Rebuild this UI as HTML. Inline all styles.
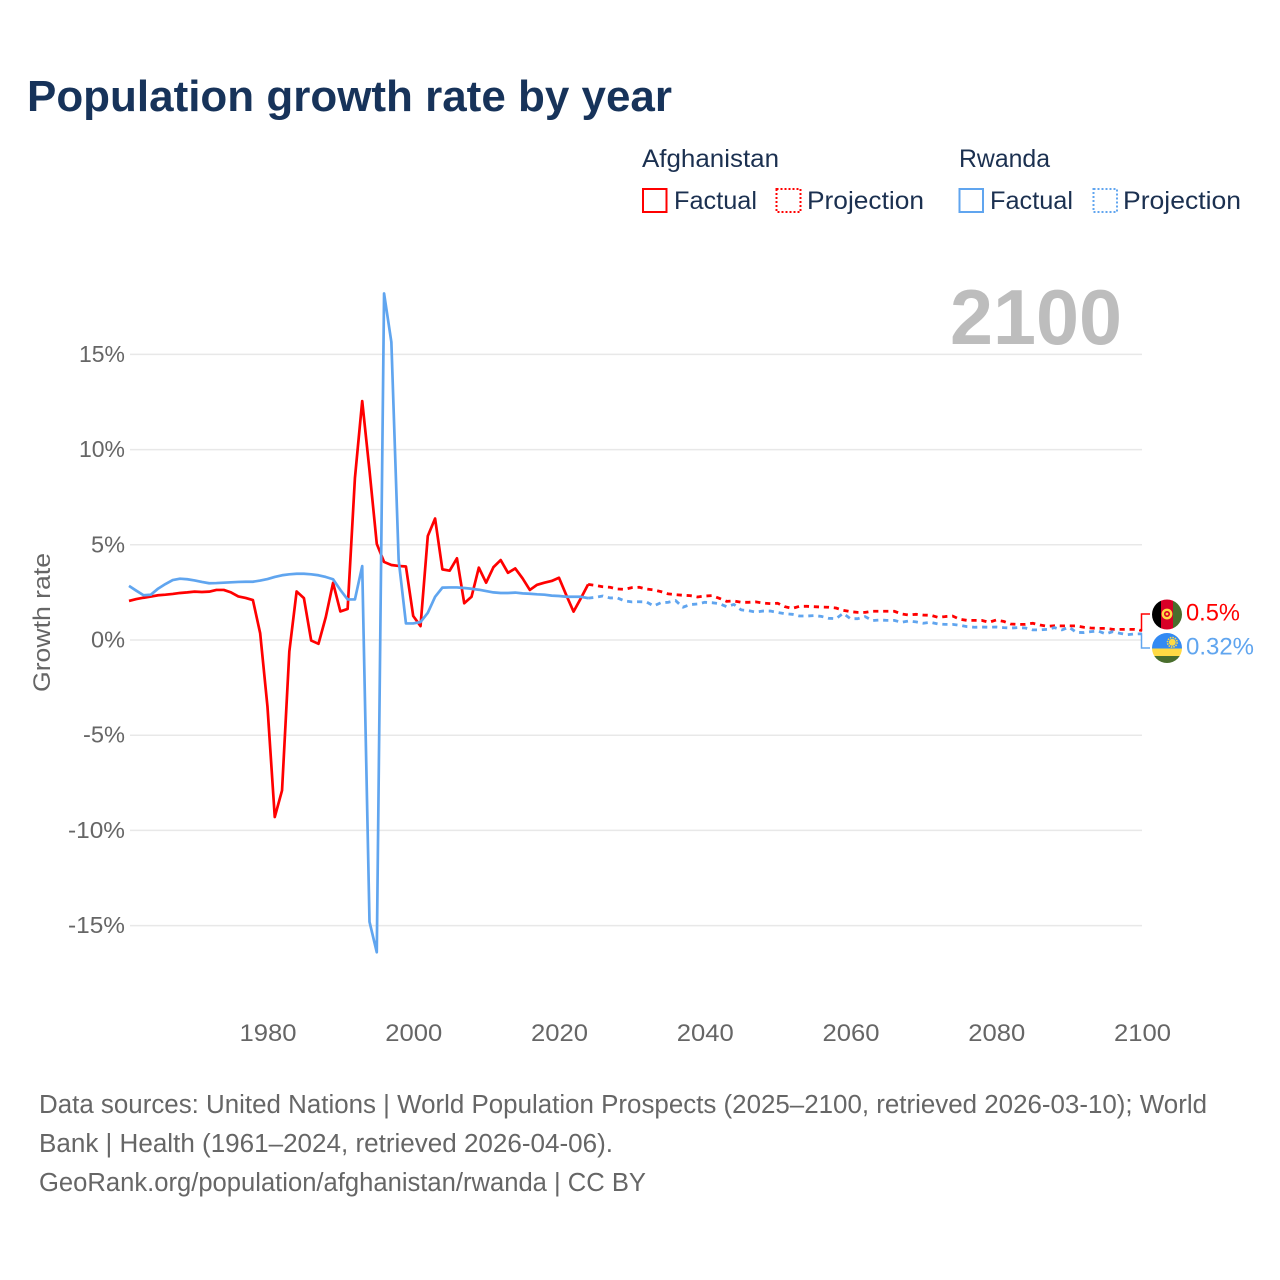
<!DOCTYPE html>
<html lang="en">
<head>
<meta charset="utf-8">
<title>Population growth rate by year</title>
<style>
html,body{margin:0;padding:0;background:#fff;width:1280px;height:1280px;overflow:hidden}
svg{display:block}
text{font-family:"Liberation Sans",sans-serif}
</style>
</head>
<body>
<svg id="chart" xmlns="http://www.w3.org/2000/svg" width="1280" height="1280" viewBox="0 0 1280 1280">
  <defs>
    <clipPath id="flag-clip-a"><circle cx="1167" cy="614.5" r="15"/></clipPath>
    <clipPath id="flag-clip-b"><circle cx="1167" cy="648" r="15"/></clipPath>
  </defs>
  <rect width="1280" height="1280" fill="#fff"/>

  <text x="27" y="111" font-size="44" font-weight="700" fill="#17335a" textLength="645" lengthAdjust="spacingAndGlyphs">Population growth rate by year</text>

  <g font-size="25" fill="#1b3050">
    <text x="642" y="167" textLength="137" lengthAdjust="spacingAndGlyphs">Afghanistan</text>
    <text x="959" y="167" textLength="91" lengthAdjust="spacingAndGlyphs">Rwanda</text>
    <rect x="643" y="189" width="23.5" height="23" fill="none" stroke="#ff0000" stroke-width="2"/>
    <text x="674" y="209" textLength="83" lengthAdjust="spacingAndGlyphs">Factual</text>
    <rect x="776.5" y="189" width="24" height="23" fill="none" stroke="#ff0000" stroke-width="2" stroke-dasharray="2 2"/>
    <text x="807" y="209" textLength="117" lengthAdjust="spacingAndGlyphs">Projection</text>
    <rect x="959.5" y="189" width="23.5" height="23" fill="none" stroke="#60a5ef" stroke-width="2"/>
    <text x="990" y="209" textLength="83" lengthAdjust="spacingAndGlyphs">Factual</text>
    <rect x="1093.5" y="189" width="23.5" height="23" fill="none" stroke="#60a5ef" stroke-width="2" stroke-dasharray="2 2"/>
    <text x="1123" y="209" textLength="118" lengthAdjust="spacingAndGlyphs">Projection</text>
  </g>

  <g id="grid"></g>
  <g id="yticks"></g>
  <g id="xticks"></g>

  <text transform="translate(50 622.5) rotate(-90)" text-anchor="middle" font-size="24" fill="#666" textLength="139" lengthAdjust="spacingAndGlyphs">Growth rate</text>

  <text x="950" y="344" font-size="78" font-weight="700" fill="#bdbdbd" textLength="172" lengthAdjust="spacingAndGlyphs">2100</text>

  <g id="series"></g>

  <g clip-path="url(#flag-clip-a)">
    <rect x="1152" y="599" width="9" height="31" fill="#000"/>
    <rect x="1161" y="599" width="12" height="31" fill="#d80027"/>
    <rect x="1173" y="599" width="9" height="31" fill="#496e2d"/>
    <circle cx="1167" cy="614" r="4.2" fill="none" stroke="#ffda44" stroke-width="2.4"/>
    <circle cx="1167" cy="614" r="1.4" fill="#ffda44"/>
  </g>
  <g clip-path="url(#flag-clip-b)">
    <rect x="1152" y="633" width="30" height="15.5" fill="#338af3"/>
    <rect x="1152" y="648.5" width="30" height="7.5" fill="#ffda44"/>
    <rect x="1152" y="656" width="30" height="8" fill="#496e2d"/>
    <circle cx="1172.3" cy="642.3" r="3.4" fill="#ffda44"/>
    <circle cx="1172.3" cy="642.3" r="4.8" fill="none" stroke="#ffda44" stroke-width="1.6" stroke-dasharray="1.5 1"/>
  </g>

  <g fill="#666" font-size="25.5">
    <text x="39" y="1113" textLength="1168" lengthAdjust="spacingAndGlyphs">Data sources: United Nations | World Population Prospects (2025–2100, retrieved 2026-03-10); World</text>
    <text x="39" y="1152" textLength="574" lengthAdjust="spacingAndGlyphs">Bank | Health (1961–2024, retrieved 2026-04-06).</text>
    <text x="39" y="1191" textLength="607" lengthAdjust="spacingAndGlyphs">GeoRank.org/population/afghanistan/rwanda | CC BY</text>
  </g>
</svg>
<script>
const yTickValues = [15, 10, 5, 0, -5, -10, -15];
const xTickYears = [1980, 2000, 2020, 2040, 2060, 2080, 2100];
const firstFactualYear = 1961;
const firstProjectionYear = 2025;

const afghanistanFactual = [2.05,2.15,2.22,2.28,2.35,2.38,2.42,2.47,2.50,2.54,2.52,2.54,2.63,2.63,2.50,2.29,2.21,2.10,0.35,-3.5,-9.3,-7.9,-0.6,2.55,2.2,-0.03,-0.2,1.2,3.0,1.5,1.63,8.5,12.55,8.9,5.05,4.1,3.94,3.89,3.86,1.26,0.73,5.46,6.38,3.71,3.64,4.29,1.93,2.27,3.8,3.01,3.82,4.2,3.53,3.76,3.24,2.63,2.9,3.01,3.1,3.27,2.36,1.49,2.19,2.92];
const afghanistanProjection = [2.87,2.80,2.77,2.68,2.66,2.75,2.77,2.68,2.63,2.54,2.42,2.38,2.35,2.33,2.26,2.31,2.33,2.19,2.03,2.05,1.98,1.98,2.00,1.94,1.91,1.93,1.75,1.66,1.77,1.77,1.75,1.73,1.72,1.68,1.56,1.49,1.45,1.45,1.51,1.51,1.51,1.51,1.37,1.31,1.35,1.31,1.30,1.19,1.23,1.26,1.09,1.03,1.03,1.03,0.93,1.05,0.98,0.84,0.82,0.82,0.88,0.79,0.72,0.75,0.74,0.74,0.74,0.67,0.63,0.61,0.61,0.56,0.56,0.56,0.56,0.5];
const rwandaFactual = [2.84,2.59,2.35,2.38,2.70,2.94,3.15,3.22,3.19,3.13,3.05,2.98,2.99,3.01,3.03,3.05,3.06,3.06,3.12,3.2,3.31,3.4,3.45,3.48,3.48,3.45,3.4,3.31,3.19,2.63,2.13,2.13,3.88,-14.8,-16.4,18.2,15.65,4.2,0.87,0.87,0.94,1.43,2.27,2.75,2.76,2.76,2.73,2.69,2.64,2.57,2.5,2.47,2.47,2.49,2.45,2.43,2.4,2.38,2.33,2.31,2.27,2.27,2.27,2.2];
const rwandaProjection = [2.24,2.31,2.21,2.21,2.05,2.00,2.01,2.00,1.79,1.96,1.98,2.07,1.72,1.86,1.89,1.98,1.96,1.91,1.75,1.87,1.58,1.54,1.47,1.52,1.52,1.45,1.38,1.35,1.26,1.26,1.28,1.24,1.14,1.12,1.40,1.12,1.12,1.23,1.02,1.05,1.03,1.03,0.93,1.00,0.95,0.88,0.93,0.84,0.82,0.82,0.77,0.70,0.67,0.68,0.67,0.68,0.65,0.63,0.65,0.63,0.53,0.53,0.56,0.65,0.53,0.67,0.40,0.39,0.44,0.47,0.32,0.44,0.35,0.28,0.32,0.32];

const NS = 'http://www.w3.org/2000/svg';
const xScale = function (year) { return 129 + (year - 1961) * (1013 / 139); };
const yScale = function (value) { return 640 - value * 19.04; };

function make(tag, attrs, parent) {
  const el = document.createElementNS(NS, tag);
  Object.keys(attrs).forEach(function (k) { el.setAttribute(k, attrs[k]); });
  parent.appendChild(el);
  return el;
}

function linePath(values, startYear, prefix) {
  const parts = prefix ? [prefix] : [];
  values.forEach(function (v, i) {
    parts.push(xScale(startYear + i).toFixed(2) + ',' + yScale(v).toFixed(2));
  });
  return 'M' + parts.join('L');
}

function tickLabelWidth(str) {
  if (str.length === 2) return 34;
  if (str.length === 4) return 57;
  return str.charAt(0) === '-' ? 42 : 46;
}

const grid = document.getElementById('grid');
const yticks = document.getElementById('yticks');
const xticks = document.getElementById('xticks');
const series = document.getElementById('series');

yTickValues.forEach(function (v) {
  const line = make('line', { x1: 130, x2: 1142, y1: yScale(v), y2: yScale(v), stroke: '#e8e8e8', 'stroke-width': 1.5 }, grid);
  
  
  const str = v + '%';
  const label = make('text', { x: 125, y: yScale(v) + 7.5, 'text-anchor': 'end', 'font-size': 23.5, fill: '#666', textLength: tickLabelWidth(str), lengthAdjust: 'spacingAndGlyphs' }, yticks);
  label.textContent = str;
  
  
});

xTickYears.forEach(function (year) {
  const label = make('text', { x: xScale(year) + 0.5, y: 1041, 'text-anchor': 'middle', 'font-size': 24, fill: '#666', textLength: 57, lengthAdjust: 'spacingAndGlyphs' }, xticks);
  label.textContent = String(year);
  
  
});

function drawSeries(factual, projection, color, key) {
  const lastFactualIndex = factual.length - 1;
  const joinPoint = xScale(firstFactualYear + lastFactualIndex).toFixed(2) + ',' + yScale(factual[lastFactualIndex]).toFixed(2);
  const dashed = make('path', { d: linePath(projection, firstProjectionYear, joinPoint), fill: 'none', stroke: color, 'stroke-width': 2.8, 'stroke-dasharray': '5.2 4.8', 'stroke-linejoin': 'round' }, series);
  
  
  const solid = make('path', { d: linePath(factual, firstFactualYear), fill: 'none', stroke: color, 'stroke-width': 2.7, 'stroke-linejoin': 'round' }, series);
  
  
}

drawSeries(afghanistanFactual, afghanistanProjection, '#ff0000', 'afghanistan');
drawSeries(rwandaFactual, rwandaProjection, '#60a5ef', 'rwanda');

const aLast = afghanistanProjection[afghanistanProjection.length - 1];
const rLast = rwandaProjection[rwandaProjection.length - 1];

const connectorA = make('path', { d: 'M1139,' + yScale(aLast) + 'H1141.5V614H1150', fill: 'none', stroke: '#ff0000', 'stroke-width': 1.5 }, series);



const connectorR = make('path', { d: 'M1139,' + yScale(rLast) + 'H1141.5V648H1150', fill: 'none', stroke: '#60a5ef', 'stroke-width': 1.5 }, series);



const valueA = make('text', { x: 1186, y: 620.5, 'font-size': 24.5, fill: '#ff0000', textLength: 54, lengthAdjust: 'spacingAndGlyphs' }, series);
valueA.textContent = aLast + '%';



const valueR = make('text', { x: 1186, y: 654.5, 'font-size': 24.5, fill: '#60a5ef', textLength: 68, lengthAdjust: 'spacingAndGlyphs' }, series);
valueR.textContent = rLast + '%';


</script>
</body>
</html>
